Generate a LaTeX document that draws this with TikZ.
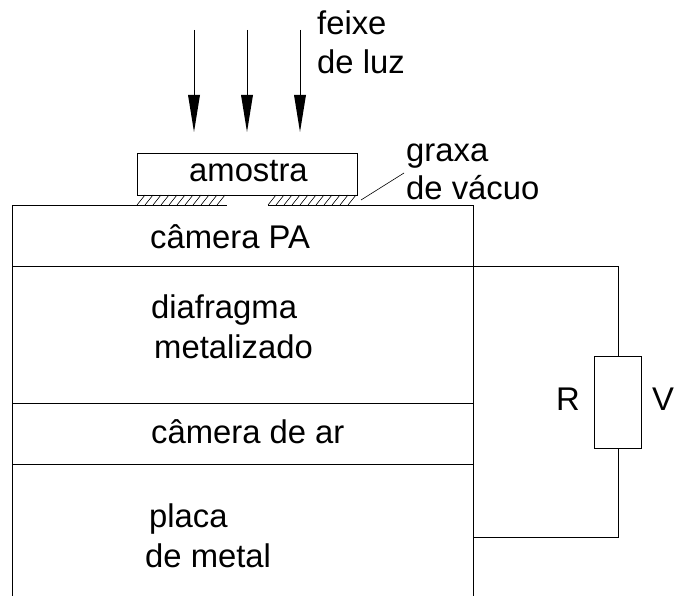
\documentclass[tikz,border=0pt]{standalone}
\usepackage{fontspec}
\setmainfont{Liberation Sans}
\begin{document}
\begin{tikzpicture}[x=1pt,y=-1pt,
  ln/.style={draw=black,line width=0.9pt},
  lbl/.style={inner sep=0pt,anchor=base west,font=\fontsize{32.8}{36}\selectfont}]
\useasboundingbox (0,0) rectangle (674,596);
% arrows
\foreach \x/\n in {194/a,247/b,300/c}{
  \coordinate (\n s) at (\x,30);
  \coordinate (\n h) at (\x,95);
  \coordinate (\n e) at (\x,132);
  \draw[ln] (\n s) -- (\n h);
  \fill (\x-6,95) -- (\x+6,95) -- (\n e) -- cycle;
}
% sample
\node[draw=black,line width=0.9pt,minimum width=220pt,minimum height=42pt,inner sep=0pt,anchor=north west] (amostra) at (137,153) {};
% hatching
\foreach \xa in {137,145,...,222,268,276,...,353}{
  \draw[line width=0.6pt] (\xa,205) -- (\xa+8,195);
}
% body
\draw[ln] (12,596) -- (12,205) -- (227,205);
\draw[ln] (268,205) -- (473,205) -- (473,596);
\coordinate (L1) at (12,266); \coordinate (R1) at (473,266);
\coordinate (L2) at (12,403); \coordinate (R2) at (473,403);
\coordinate (L3) at (12,464); \coordinate (R3) at (473,464);
\draw[ln] (L1) -- (R1);
\draw[ln] (L2) -- (R2);
\draw[ln] (L3) -- (R3);
% circuit
\node[draw=black,line width=0.9pt,minimum width=47pt,minimum height=92pt,inner sep=0pt,anchor=north west] (res) at (594,356) {};
\coordinate (R4) at (473,537);
\draw[ln] (R1) -- (res.north |- R1) -- (res.north);
\draw[ln] (res.south) -- (res.south |- R4) -- (R4);
% leader
\coordinate (g1) at (361,200);
\coordinate (g2) at (404,173);
\draw[line width=0.6pt] (g1) -- (g2);
% labels
\node[lbl] (t1) at (317,35) {feixe};
\node[lbl] (t2) at (317,74) {de luz};
\node[lbl] (t3) at (189,182) {amostra};
\node[lbl] (t4) at (406,162) {graxa};
\node[lbl] (t5) at (406,200) {de vácuo};
\node[lbl] (t6) at (150,248) {câmera PA};
\node[lbl] (t7) at (151,318) {diafragma};
\node[lbl] (t8) at (154,358) {metalizado};
\node[lbl] (t9) at (151,443) {câmera de ar};
\node[lbl] (t10) at (149,527) {placa};
\node[lbl] (t11) at (145,567) {de metal};
\node[lbl] (t12) at (556,410) {R};
\node[lbl] (t13) at (652,410) {V};
\end{tikzpicture}
\end{document}
